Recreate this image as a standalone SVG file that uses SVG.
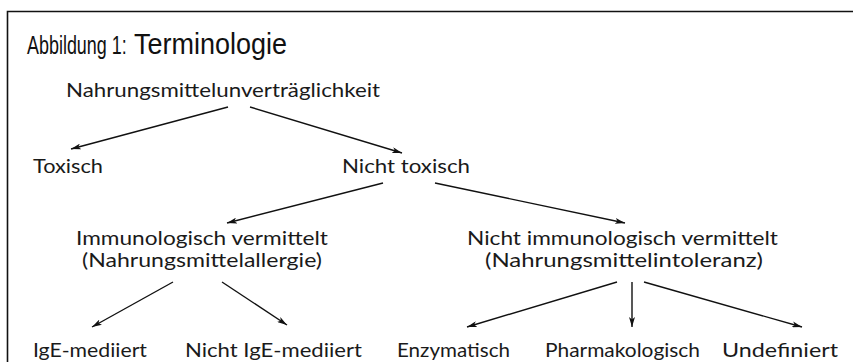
<svg xmlns="http://www.w3.org/2000/svg" width="853" height="362" viewBox="0 0 853 362">
<defs>
<style>
.t{font-family:Lato,"Open Sans","DejaVu Sans",sans-serif;font-size:20px;fill:#1a1a1a}
.h{font-family:"Liberation Sans",Arial,sans-serif;fill:#111}
.c{stroke:#111;stroke-width:1.4;fill:none;marker-end:url(#a)}
</style>
<marker id="a" viewBox="0 0 10 6" refX="10" refY="3" markerWidth="10" markerHeight="6" markerUnits="userSpaceOnUse" orient="auto">
<path d="M0,0 L10,3 L0,6 L2.5,3 Z" fill="#111"/>
</marker>
</defs>
<rect width="853" height="362" fill="#fff"/>
<path d="M7.5,362 V11.5 H853" stroke="#111" stroke-width="1.6" fill="none"/>
<g id="title">
<text class="h" transform="translate(27,54) scale(0.69,1)" font-size="26">Abbildung 1:</text>
<text class="h" transform="translate(134,54) scale(0.9,1)" font-size="30">Terminologie</text>
</g>
<g id="connectors">
<line class="c" x1="228" y1="107" x2="71" y2="149"/>
<line class="c" x1="250" y1="107" x2="402" y2="153"/>
<line class="c" x1="383" y1="183" x2="227" y2="223"/>
<line class="c" x1="435" y1="183" x2="625" y2="223"/>
<line class="c" x1="173" y1="282" x2="92" y2="327"/>
<line class="c" x1="222" y1="282" x2="287" y2="325"/>
<line class="c" x1="617" y1="282" x2="467" y2="327"/>
<line class="c" x1="632" y1="282" x2="632" y2="327"/>
<line class="c" x1="644" y1="282" x2="802" y2="327"/>
</g>
<g id="n-root"><text class="t" x="66" y="97" textLength="314" lengthAdjust="spacingAndGlyphs">Nahrungsmittelunverträglichkeit</text></g>
<g id="n-toxisch"><text class="t" x="33" y="173" textLength="70" lengthAdjust="spacingAndGlyphs">Toxisch</text></g>
<g id="n-nicht-toxisch"><text class="t" x="342" y="173" textLength="128" lengthAdjust="spacingAndGlyphs">Nicht toxisch</text></g>
<g id="n-immun">
<text class="t" x="76" y="245" textLength="252" lengthAdjust="spacingAndGlyphs">Immunologisch vermittelt</text>
<text class="t" x="82" y="267" textLength="240" lengthAdjust="spacingAndGlyphs">(Nahrungsmittelallergie)</text>
</g>
<g id="n-nicht-immun">
<text class="t" x="467" y="245" textLength="311" lengthAdjust="spacingAndGlyphs">Nicht immunologisch vermittelt</text>
<text class="t" x="485" y="267" textLength="278" lengthAdjust="spacingAndGlyphs">(Nahrungsmittelintoleranz)</text>
</g>
<g id="n-ige"><text class="t" x="33" y="357" textLength="114" lengthAdjust="spacingAndGlyphs">IgE-mediiert</text></g>
<g id="n-nicht-ige"><text class="t" x="185" y="357" textLength="177" lengthAdjust="spacingAndGlyphs">Nicht IgE-mediiert</text></g>
<g id="n-enzym"><text class="t" x="397" y="357" textLength="113" lengthAdjust="spacingAndGlyphs">Enzymatisch</text></g>
<g id="n-pharma"><text class="t" x="545" y="357" textLength="155" lengthAdjust="spacingAndGlyphs">Pharmakologisch</text></g>
<g id="n-undef"><text class="t" x="722" y="357" textLength="116" lengthAdjust="spacingAndGlyphs">Undefiniert</text></g>
</svg>
